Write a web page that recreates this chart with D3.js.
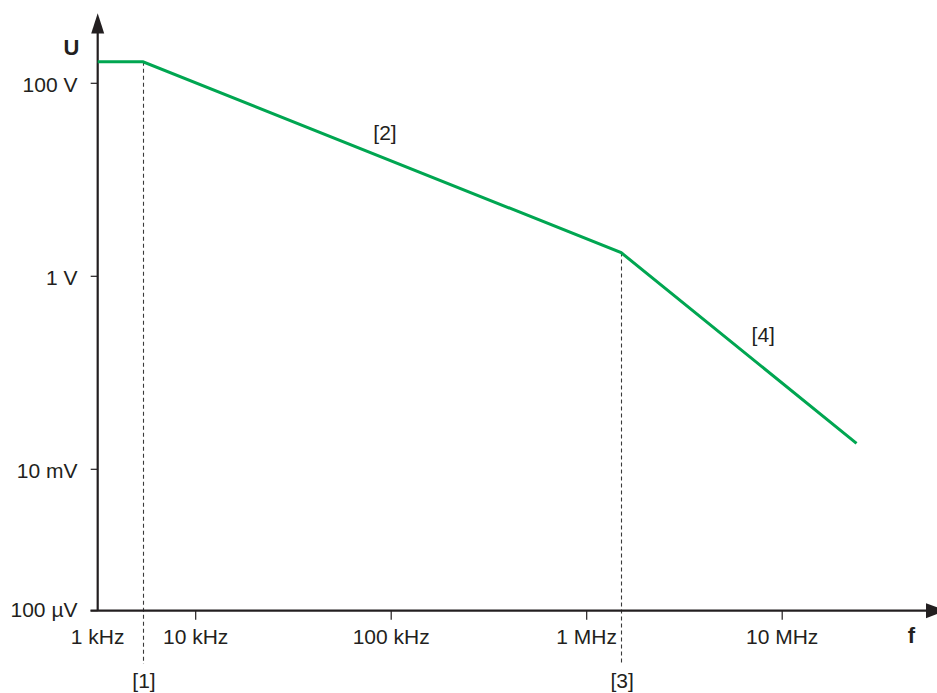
<!DOCTYPE html>
<html>
<head>
<meta charset="utf-8">
<script src="https://cdn.jsdelivr.net/npm/d3@7"></script>
<style>
  html, body { margin: 0; padding: 0; background: #fff; }
  svg text { font-family: "Liberation Sans", Arial, Helvetica, sans-serif; fill: #231f20; }
</style>
</head>
<body>
<svg id="chart" width="937" height="693"></svg>
<script>
// Frequency ticks (Hz) and their labels
const freqTicks = [1e3, 1e4, 1e5, 1e6, 1e7];
const freqLabels = ["1 kHz", "10 kHz", "100 kHz", "1 MHz", "10 MHz"];

// Voltage ticks (V) and their labels
const voltTicks = [1e-4, 1e-2, 1, 100];
const voltLabels = ["100 µV", "10 mV", "1 V", "100 V"];

// Limit curve: frequency (Hz) and voltage (V) at each corner
const curveFreq = [1e3, 2.9e3, 1.5e6, 2.4e7];
const curveVolt = [167, 167, 1.76, 0.0186];

// Corner markers along the frequency axis
const markerFreq = [2.9e3, 1.5e6];
const markerVolt = [167, 1.76];
const markerLabels = ["[1]", "[3]"];

// Section labels placed beside the curve
const sectionFreq = [9.3e4, 8.0e6];
const sectionVolt = [25.8, 0.208];
const sectionLabels = ["[2]", "[4]"];

const svg = d3.select("#chart");
const ink = "#231f20";
const green = "#00a651";

// Both axes are logarithmic with a shortened first span
const x = d3.scaleLog().domain([1e3, 1e4, 1e8]).range([97.7, 195.7, 977.7]);
const y = d3.scaleLog().domain([1e-4, 1e-2, 1e2]).range([610.7, 469.3, 83.3]);

const x0 = x(1e3), y0 = y(1e-4);

// Dashed guide lines from the corners down below the axis
const guides = svg.append("g");
markerFreq.forEach((f, i) => {
  const gx = Math.round(x(f)) + 0.5;
  guides.append("line")
    .attr("x1", gx).attr("x2", gx)
    .attr("y1", y(markerVolt[i])).attr("y2", 664)
    .attr("stroke", "#3a3a3a").attr("stroke-width", 1.1)
    .attr("stroke-dasharray", "4,3");
  guides.append("text")
    .attr("x", x(f) + 1).attr("y", 688)
    .attr("text-anchor", "middle").attr("font-size", 21)
    .text(markerLabels[i]);
});

// Axis lines with arrow heads
svg.append("line")
  .attr("x1", x0).attr("x2", x0).attr("y1", y0).attr("y2", 30)
  .attr("stroke", ink).attr("stroke-width", 2.2);
svg.append("path")
  .attr("d", `M${x0},13.3 L${x0 - 6.5},33.5 L${x0 + 6.5},33.5 Z`)
  .attr("fill", ink);

svg.append("line")
  .attr("x1", 90.5).attr("x2", 928).attr("y1", y0).attr("y2", y0)
  .attr("stroke", ink).attr("stroke-width", 2.2);
svg.append("path")
  .attr("d", `M946,${y0} L926,${y0 - 7.5} L926,${y0 + 7.5} Z`)
  .attr("fill", ink);

// Frequency ticks and labels
const xt = svg.append("g");
freqTicks.forEach((f, i) => {
  if (i > 0) {
    xt.append("line")
      .attr("x1", x(f)).attr("x2", x(f)).attr("y1", y0).attr("y2", y0 + 9)
      .attr("stroke", ink).attr("stroke-width", 1.2);
  }
  xt.append("text")
    .attr("x", x(f)).attr("y", 644)
    .attr("text-anchor", "middle").attr("font-size", 21)
    .text(freqLabels[i]);
});

// Voltage ticks and labels
const yt = svg.append("g");
voltTicks.forEach((v, i) => {
  yt.append("line")
    .attr("x1", x0 - 7).attr("x2", x0).attr("y1", y(v)).attr("y2", y(v))
    .attr("stroke", ink).attr("stroke-width", 1.2);
  yt.append("text")
    .attr("x", 77.5).attr("y", y(v) + (i === 0 ? 6 : 9))
    .attr("text-anchor", "end").attr("font-size", 21)
    .text(voltLabels[i]);
});

// Axis titles
svg.append("text")
  .attr("x", 71.5).attr("y", 55).attr("text-anchor", "middle")
  .attr("font-size", 22).attr("font-weight", "bold").text("U");
svg.append("text")
  .attr("x", 911.5).attr("y", 643).attr("text-anchor", "middle")
  .attr("font-size", 22).attr("font-weight", "bold").text("f");

// Limit curve
const line = d3.line()
  .x(d => x(d[0]))
  .y(d => y(d[1]));
svg.append("path")
  .datum(curveFreq.map((f, i) => [f, curveVolt[i]]))
  .attr("d", line)
  .attr("fill", "none")
  .attr("stroke", green)
  .attr("stroke-width", 3)
  .attr("stroke-linejoin", "miter");

// Section labels
sectionFreq.forEach((f, i) => {
  svg.append("text")
    .attr("x", x(f)).attr("y", y(sectionVolt[i]))
    .attr("text-anchor", "middle").attr("font-size", 21)
    .text(sectionLabels[i]);
});
</script>
</body>
</html>
